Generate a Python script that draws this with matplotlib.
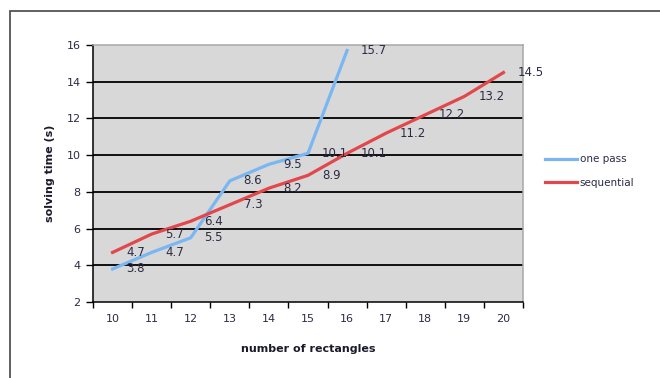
import numpy as np
import matplotlib.pyplot as plt
from matplotlib.patches import Rectangle

rectangles = [10, 11, 12, 13, 14, 15, 16, 17, 18, 19, 20]
one_pass = [3.8, 4.7, 5.5, 8.6, 9.5, 10.1, 15.7]
sequential = [4.7, 5.7, 6.4, 7.3, 8.2, 8.9, 10.1, 11.2, 12.2, 13.2, 14.5]

text_col = '#2b2b45'
blue = '#7ab6f2'
red = '#e2474b'

fig = plt.figure(figsize=(6.6, 3.78), dpi=100)
ax = fig.add_axes([93 / 660, 1 - 302 / 378, 430 / 660, 257 / 378])
ax.set_facecolor('#d8d8d8')

# outer chart border (runs off the right and bottom edges)
fig.patches.append(Rectangle((10 / 660, -0.1), 1.0, 1 - 11 / 378 + 0.1,
                             transform=fig.transFigure, fill=False,
                             edgecolor='#454545', linewidth=1.2))

x = np.arange(len(rectangles))
ax.plot(x[:len(one_pass)], one_pass, color=blue, linewidth=2.3,
        label='one pass', solid_joinstyle='round', zorder=3)
ax.plot(x, sequential, color=red, linewidth=2.3,
        label='sequential', solid_joinstyle='round', zorder=3)

# value labels to the right of each point
for xi, v in zip(x, one_pass):
    ax.annotate(f'{v:g}', (xi, v), xytext=(10, 0), textcoords='offset points',
                ha='left', va='center', fontsize=8.5, color=text_col, zorder=4)
for xi, v in zip(x, sequential):
    ax.annotate(f'{v:g}', (xi, v), xytext=(10, 0), textcoords='offset points',
                ha='left', va='center', fontsize=8.5, color=text_col, zorder=4,
                annotation_clip=False)

ax.set_ylim(2, 16)
ax.set_yticks(np.arange(2, 17, 2))
for yv in range(4, 16, 2):
    ax.axhline(yv, color='black', linewidth=1.3, zorder=1)

ax.set_xlim(-0.5, len(rectangles) - 0.5)
ax.set_xticks(np.arange(-0.5, len(rectangles), 1.0))
ax.set_xticklabels([])
ax.set_xticks(x, minor=True)
ax.set_xticklabels([str(r) for r in rectangles], minor=True)
ax.tick_params(axis='x', which='major', direction='out', length=4,
               width=1, color='black')
ax.tick_params(axis='x', which='minor', length=0, pad=9,
               labelsize=8, labelcolor=text_col)
ax.tick_params(axis='y', direction='out', length=5, width=1,
               labelsize=8, labelcolor=text_col, pad=4)

for side in ['left', 'bottom']:
    ax.spines[side].set_color('black')
    ax.spines[side].set_linewidth(1.1)
for side in ['top', 'right']:
    ax.spines[side].set_color('#a8a8a8')
    ax.spines[side].set_linewidth(1.1)

ax.set_xlabel('number of rectangles', fontsize=8, fontweight='bold',
              color='#1a1a2a', labelpad=14)
ax.set_ylabel('solving time (s)', fontsize=8, fontweight='bold',
              color='#1a1a2a', labelpad=8)

ax.legend(loc='center left', bbox_to_anchor=(1.03, 0.51), frameon=False,
          fontsize=7.5, handlelength=3.0, handletextpad=0.3,
          labelspacing=1.3, labelcolor=text_col)

fig.savefig('out.png', dpi=100)
